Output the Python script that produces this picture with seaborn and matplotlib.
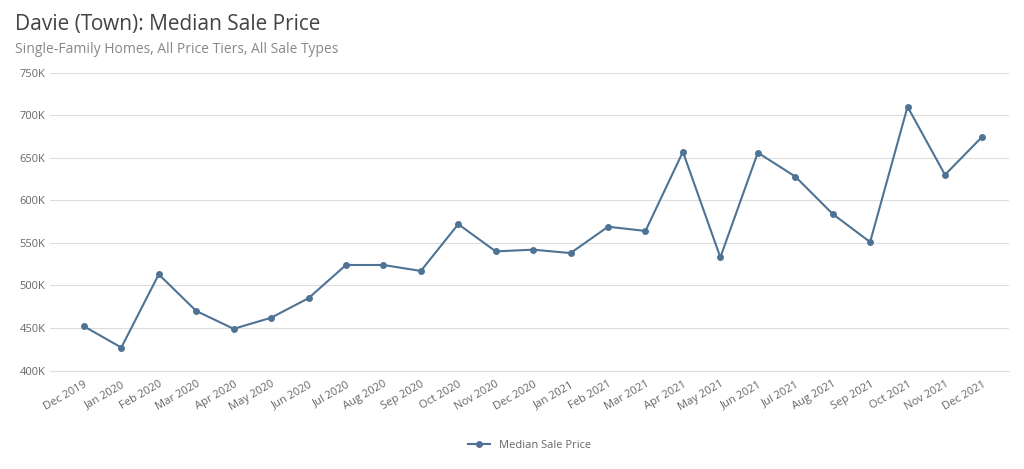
import matplotlib
matplotlib.use("Agg")
import matplotlib.pyplot as plt
import seaborn as sns
import pandas as pd

months = ["Dec 2019", "Jan 2020", "Feb 2020", "Mar 2020", "Apr 2020", "May 2020",
          "Jun 2020", "Jul 2020", "Aug 2020", "Sep 2020", "Oct 2020", "Nov 2020",
          "Dec 2020", "Jan 2021", "Feb 2021", "Mar 2021", "Apr 2021", "May 2021",
          "Jun 2021", "Jul 2021", "Aug 2021", "Sep 2021", "Oct 2021", "Nov 2021",
          "Dec 2021"]
prices = [452, 427, 513, 470, 449, 462, 485, 524, 524, 517, 572, 540,
          542, 538, 569, 564, 657, 533, 656, 628, 584, 551, 710, 630, 675]
yticks = [400, 450, 500, 550, 600, 650, 700, 750]

LINE = "#4e7395"
FG = "#666666"

plt.rcParams["font.family"] = "Open Sans"
df = pd.DataFrame({"month": months, "price": prices})
df["i"] = range(len(df))

fig = plt.figure(figsize=(10.24, 4.69), dpi=100)
ax = fig.add_axes([0.049, 0.21, 0.936, 0.635])
sns.lineplot(data=df, x="i", y="price", ax=ax, color=LINE, marker="o",
             markersize=5, markeredgewidth=0, linewidth=1.5, label="Median Sale Price")

ax.set_ylim(400, 750)
ax.set_yticks(yticks)
ax.set_yticklabels([f"{v}K" for v in yticks])
ax.set_xlim(-0.9, len(months) - 0.3)
ax.set_xticks(df["i"])
ax.set_xticklabels(months, rotation=30, ha="right", rotation_mode="anchor")
ax.tick_params(axis="both", colors=FG, labelsize=8, length=0)
ax.tick_params(axis="x", pad=6)
ax.set_xlabel("")
ax.set_ylabel("")
ax.yaxis.grid(True, color="#dddddd", linewidth=0.8)
ax.set_axisbelow(True)
for s in ["top", "right", "left"]:
    ax.spines[s].set_visible(False)
ax.spines["bottom"].set_color("#dddddd")

ax.legend(loc="upper center", bbox_to_anchor=(0.5, -0.2), frameon=False,
          fontsize=8, labelcolor=FG)

fig.text(0.015, 0.935, "Davie (Town): Median Sale Price", fontsize=15, color="#444444")
fig.text(0.015, 0.888, "Single-Family Homes, All Price Tiers, All Sale Types",
         fontsize=10, color="#888888")

fig.savefig("out.png", dpi=100)
